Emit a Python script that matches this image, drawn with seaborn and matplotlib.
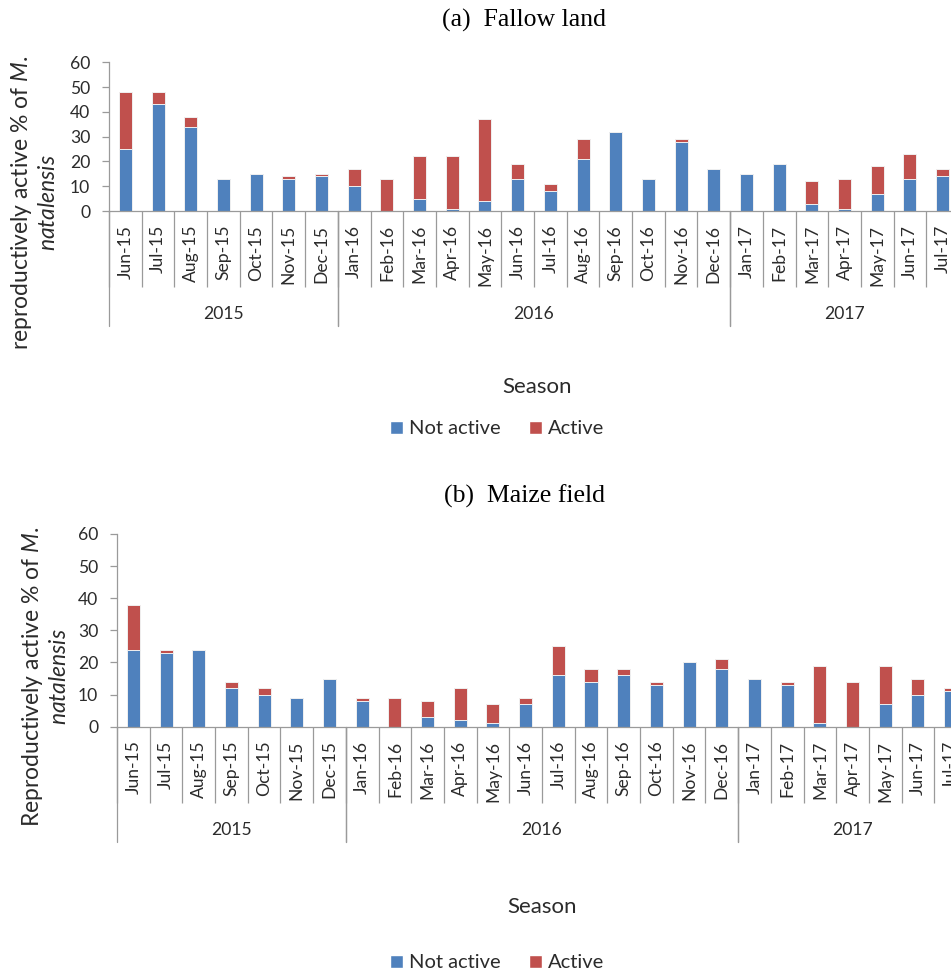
import numpy as np
import pandas as pd
import matplotlib
matplotlib.use("Agg")
import matplotlib.pyplot as plt
import seaborn as sns
from matplotlib.patches import Patch

# ---------------- data ----------------
months = ["Jun-15", "Jul-15", "Aug-15", "Sep-15", "Oct-15", "Nov-15", "Dec-15",
          "Jan-16", "Feb-16", "Mar-16", "Apr-16", "May-16", "Jun-16", "Jul-16",
          "Aug-16", "Sep-16", "Oct-16", "Nov-16", "Dec-16",
          "Jan-17", "Feb-17", "Mar-17", "Apr-17", "May-17", "Jun-17", "Jul-17"]

fallow_not_active = [25, 43, 34, 13, 15, 13, 14, 10, 0, 5, 1, 4, 13, 8, 21, 32, 13, 28, 17,
                     15, 19, 3, 1, 7, 13, 14]
fallow_active = [23, 5, 4, 0, 0, 1, 1, 7, 13, 17, 21, 33, 6, 3, 8, 0, 0, 1, 0,
                 0, 0, 9, 12, 11, 10, 3]

maize_not_active = [24, 23, 24, 12, 10, 9, 15, 8, 0, 3, 2, 1, 7, 16, 14, 16, 13, 20, 18,
                    15, 13, 1, 0, 7, 10, 11]
maize_active = [14, 1, 0, 2, 2, 0, 0, 1, 9, 5, 10, 6, 2, 9, 4, 2, 1, 0, 3,
                0, 1, 18, 14, 12, 5, 1]

yticks = [0, 10, 20, 30, 40, 50, 60]
series_names = ["Not active", "Active"]

# ---------------- style ----------------
sns.set_theme(style="white")
plt.rcParams["font.family"] = ["Lato", "DejaVu Sans"]
plt.rcParams["mathtext.fontset"] = "custom"
plt.rcParams["mathtext.rm"] = "Lato"
plt.rcParams["mathtext.it"] = "Lato:italic"

BLUE = "#4F81BD"
RED = "#C0504D"
AXC = "#9A9A9A"
TXT = "#2b2b2b"

W, H = 951, 973
fig = plt.figure(figsize=(W / 100, H / 100), dpi=100)


def fx(px):
    return px / W


def fy(py):
    return 1 - py / H


def panel(rect, not_active, active):
    ax = fig.add_axes(rect)
    df = pd.DataFrame({"month": months,
                       "not_active": not_active,
                       "total": np.array(not_active) + np.array(active)})
    sns.barplot(data=df, x="month", y="total", order=months, color=RED,
                saturation=1, width=0.4, errorbar=None, ax=ax,
                edgecolor="#f0f0f0", linewidth=0.7)
    sns.barplot(data=df, x="month", y="not_active", order=months, color=BLUE,
                saturation=1, width=0.4, errorbar=None, ax=ax,
                edgecolor="#f0f0f0", linewidth=0.7)
    ax.set_xlim(-0.5, len(months) - 0.5)
    ax.set_ylim(0, 60)
    ax.set_yticks(yticks)
    ax.set_xlabel("")
    ax.set_ylabel("")
    for s in ["top", "right"]:
        ax.spines[s].set_visible(False)
    for s in ["left", "bottom"]:
        ax.spines[s].set_color(AXC)
        ax.spines[s].set_linewidth(0.9)
    ax.tick_params(axis="y", direction="out", length=5, width=0.9, color=AXC,
                   labelsize=12.6, labelcolor=TXT, pad=8.5, left=True)
    ax.tick_params(axis="x", which="major", length=0, pad=10, labelsize=12.6,
                   labelcolor=TXT, labelrotation=90)
    ax.set_xticks(np.arange(len(months) + 1) - 0.5, minor=True)
    ax.tick_params(axis="x", which="minor", direction="out", length=76 * 0.72,
                   width=0.9, color=AXC, bottom=True)

    # year grouping level
    hpx = ax.get_position().height * H
    years = ["20" + m.split("-")[1] for m in months]
    groups = []
    for i, y in enumerate(years):
        if not groups or groups[-1][0] != y:
            groups.append([y, i, i])
        else:
            groups[-1][2] = i
    trans = ax.get_xaxis_transform()
    for y, i0, i1 in groups:
        for xb in (i0 - 0.5, i1 + 0.5):
            ax.plot([xb, xb], [0, -115 / hpx], transform=trans, color=AXC,
                    lw=0.9, clip_on=False)
        ax.text((i0 + i1) / 2, -103 / hpx, y, transform=trans, ha="center",
                va="center", fontsize=12.6, color=TXT)
    return ax


ax1 = panel([fx(109), fy(211), 850 / W, 148.7 / H], fallow_not_active, fallow_active)
ax2 = panel([fx(117), fy(726.7), 850 / W, 192.7 / H], maize_not_active, maize_active)

# titles
fig.text(fx(524), fy(20), "(a)  Fallow land", ha="center", va="center",
         family="Liberation Serif", fontsize=18.5, color="black")
fig.text(fx(524), fy(496), "(b)  Maize field", ha="center", va="center",
         family="Liberation Serif", fontsize=18.5, color="black")

# y labels
fig.text(fx(34), fy(203), "reproductively active % of $\\mathit{M.}$\n$\\mathit{natalensis}$",
         rotation=90, ha="center", va="center", multialignment="center",
         fontsize=16.5, color=TXT)
fig.text(fx(45), fy(677), "Reproductively active % of $\\mathit{M.}$\n$\\mathit{natalensis}$",
         rotation=90, ha="center", va="center", multialignment="center",
         fontsize=16.5, color=TXT)

# x labels
fig.text(fx(537), fy(387), "Season", ha="center", va="center", fontsize=16, color=TXT)
fig.text(fx(542), fy(907), "Season", ha="center", va="center", fontsize=16, color=TXT)

# legends
handles = [Patch(facecolor=BLUE, label=series_names[0]),
           Patch(facecolor=RED, label=series_names[1])]
for ly in (429, 963):
    fig.legend(handles=handles, loc="center", bbox_to_anchor=(fx(497), fy(ly)),
               ncol=2, frameon=False, fontsize=14.5, handlelength=0.65,
               handleheight=0.65, handletextpad=0.3, columnspacing=1.4,
               labelcolor=TXT)

fig.savefig("out.png", dpi=100)
